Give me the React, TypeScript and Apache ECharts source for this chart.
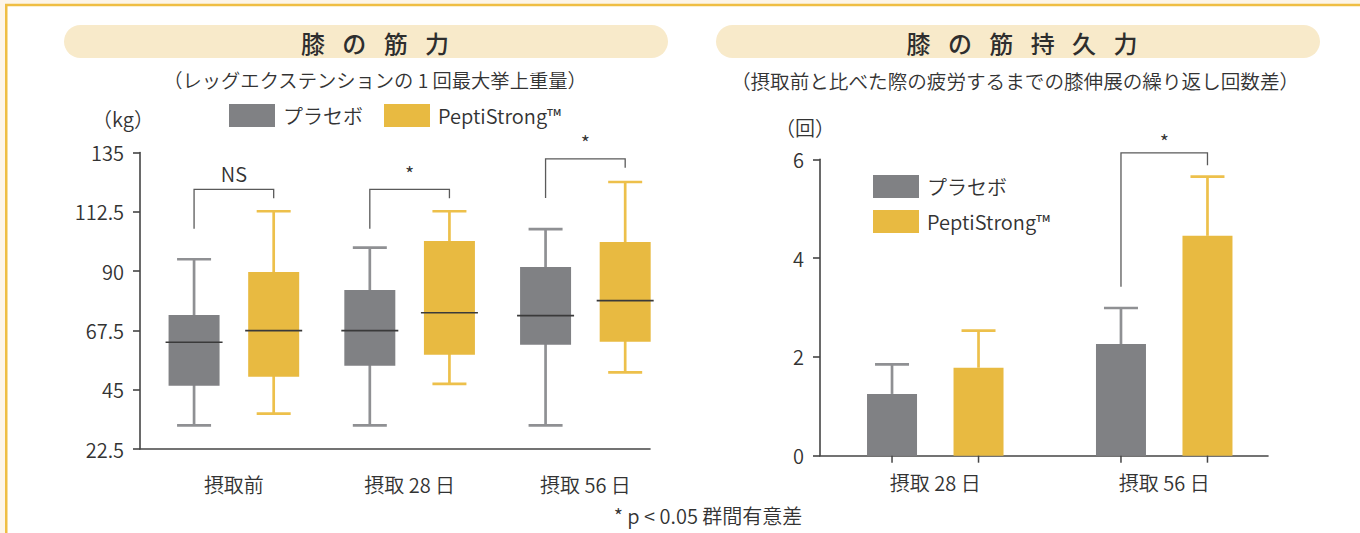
import React, { useEffect, useRef } from "react";
import * as echarts from "echarts";

// ---------- data ----------
const groupNames = ["プラセボ", "PeptiStrong™"];

// left chart: knee strength (kg), box plots [min, Q1, median, Q3, max]
const strengthCategories = ["摂取前", "摂取 28 日", "摂取 56 日"];
const strengthMin = 22.5;
const strengthMax = 135;
const strengthInterval = 22.5;
const placeboStrength = [
  [31.5, 46.5, 63.0, 73.3, 94.5],
  [31.5, 54.1, 67.4, 82.8, 98.9],
  [31.5, 62.1, 73.1, 91.6, 105.9],
];
const peptiStrength = [
  [35.9, 49.9, 67.4, 89.7, 112.7],
  [47.2, 58.3, 74.2, 101.4, 112.7],
  [51.6, 63.2, 78.8, 101.0, 123.8],
];
// significance brackets: [category, top, left end, right end]
const strengthSig = [
  [0, 121.0, 106.1, 117.6],
  [1, 121.0, 106.1, 117.6],
  [2, 132.6, 117.7, 129.2],
];
const strengthSigLabels = ["NS", "*", "*"];

// right chart: knee endurance (reps difference), mean and SD
const enduranceCategories = ["摂取 28 日", "摂取 56 日"];
const enduranceMin = 0;
const enduranceMax = 6;
const enduranceInterval = 2;
const placeboEndurance = [1.25, 2.26];
const placeboEnduranceSD = [0.6, 0.73];
const peptiEndurance = [1.78, 4.45];
const peptiEnduranceSD = [0.75, 1.2];
const enduranceSig = [[1, 6.13, 3.42, 5.88]];
const enduranceSigLabels = ["*"];

// ---------- styles ----------
const FONT = '"Noto Sans CJK JP", "Noto Sans", sans-serif';
const FW = 350;
const GRAY = "#808184";
const GRAY_W = "#8f9093";
const YELLOW = "#e8ba41";
const YELLOW_W = "#edc04b";
const INK = "#333333";
const AXIS = "#454545";
const MEDIAN = "#3a3a3a";
const BRACKET = "#5a5a5a";
const PILL = "#f8eaca";

const BOX_W = 51;
const CAP_W = 34;
const MED_W = 57;
const BOX_OFFSET_RATIO = 0.2265;
const BAR_W = 50;
const BAR_GAP_RATIO = 0.73;
const BAR_OFFSET = (BAR_W * (1 + BAR_GAP_RATIO)) / 2;

function boxRender(side: number, fill: string, whisker: string) {
  return (params: any, api: any) => {
    const idx = api.value(0);
    const band = api.size([1, 0])[0];
    const cx = api.coord([idx, api.value(3)])[0] + side * band * BOX_OFFSET_RATIO;
    const y = (k: number) => api.coord([idx, api.value(k)])[1];
    const yMin = y(1), yQ1 = y(2), yMed = y(3), yQ3 = y(4), yMax = y(5);
    const ws = { stroke: whisker, lineWidth: 2.7 };
    return {
      type: "group",
      children: [
        { type: "line", shape: { x1: cx, y1: yMin, x2: cx, y2: yMax }, style: ws },
        { type: "line", shape: { x1: cx - CAP_W / 2, y1: yMin, x2: cx + CAP_W / 2, y2: yMin }, style: ws },
        { type: "line", shape: { x1: cx - CAP_W / 2, y1: yMax, x2: cx + CAP_W / 2, y2: yMax }, style: ws },
        { type: "rect", shape: { x: cx - BOX_W / 2, y: yQ3, width: BOX_W, height: yQ1 - yQ3 }, style: { fill } },
        { type: "line", shape: { x1: cx - MED_W / 2, y1: yMed, x2: cx + MED_W / 2, y2: yMed }, style: { stroke: MEDIAN, lineWidth: 1.6 } },
      ],
    };
  };
}

function errRender(side: number, whisker: string) {
  return (params: any, api: any) => {
    const idx = api.value(0);
    const v = api.value(1);
    const sd = api.value(2);
    const top = api.coord([idx, v]);
    const cx = top[0] + side * BAR_OFFSET;
    const yErr = api.coord([idx, v + sd])[1];
    const y0 = api.coord([idx, 0])[1];
    const ws = { stroke: whisker, lineWidth: 2.7 };
    return {
      type: "group",
      children: [
        { type: "line", shape: { x1: cx, y1: top[1], x2: cx, y2: yErr }, style: ws },
        { type: "line", shape: { x1: cx - CAP_W / 2, y1: yErr, x2: cx + CAP_W / 2, y2: yErr }, style: ws },
        { type: "line", shape: { x1: cx, y1: y0, x2: cx, y2: y0 + 7 }, style: { stroke: AXIS, lineWidth: 1.5 } },
      ],
    };
  };
}

function bracketRender(offset: (band: number) => number, labels: string[], gap: number) {
  return (params: any, api: any) => {
    const idx = api.value(0);
    const band = api.size([1, 0])[0];
    const c = api.coord([idx, api.value(1)]);
    const off = offset(band);
    const xl = c[0] - off;
    const xr = c[0] + off;
    const yT = c[1];
    const yL = api.coord([idx, api.value(2)])[1];
    const yR = api.coord([idx, api.value(3)])[1];
    return {
      type: "group",
      children: [
        {
          type: "polyline",
          shape: { points: [[xl, yL], [xl, yT], [xr, yT], [xr, yR]] },
          style: { stroke: BRACKET, lineWidth: 1.3, fill: null },
        },
        {
          type: "text",
          x: c[0],
          y: yT - gap,
          style: {
            text: labels[params.dataIndex],
            fill: INK,
            fontSize: 20,
            fontWeight: FW,
            fontFamily: FONT,
            align: "center",
            verticalAlign: "middle",
          },
        },
      ],
    };
  };
}

function txt(x: number, y: number, text: string, size: number, extra: any = {}) {
  return {
    type: "text",
    x,
    y,
    z: 1,
    style: { text, fill: INK, fontSize: size, fontWeight: FW, fontFamily: FONT, align: "center", verticalAlign: "middle", ...extra },
  };
}

export default function App() {
  const ref = useRef<HTMLDivElement>(null);
  useEffect(() => {
    if (!ref.current) return;
    const chart = echarts.init(ref.current, undefined, { renderer: "svg" });

    const legendData = [
      { name: groupNames[0], itemStyle: { color: GRAY } },
      { name: groupNames[1], itemStyle: { color: YELLOW } },
    ];
    const legendCommon = {
      itemWidth: 46,
      itemHeight: 23,
      padding: 0,
      icon: "rect",
      selectedMode: false,
      textStyle: { fontSize: 20, fontWeight: FW, color: INK, fontFamily: FONT, padding: [0, 0, 0, 3] },
      data: legendData,
    };
    const axisLineStyle = { color: AXIS, width: 1.6 };
    const hiddenX = (gridIndex: number) => ({
      gridIndex,
      type: "value",
      min: 0,
      max: 1,
      axisLine: { show: true, onZero: false, lineStyle: axisLineStyle },
      axisTick: { show: false },
      axisLabel: { show: false },
      splitLine: { show: false },
    });
    const catX = (gridIndex: number, data: string[], margin: number) => ({
      gridIndex,
      type: "category",
      data,
      axisLine: { show: false },
      axisTick: { show: false },
      splitLine: { show: false },
      axisLabel: { interval: 0, margin, fontSize: 20, fontWeight: FW, color: INK, fontFamily: FONT },
    });
    const visY = (gridIndex: number, min: number, max: number, interval: number) => ({
      gridIndex,
      type: "value",
      min,
      max,
      interval,
      axisLine: { show: true, onZero: false, lineStyle: axisLineStyle },
      axisTick: { show: true, length: 7, lineStyle: axisLineStyle },
      axisLabel: { margin: 16, fontSize: 20, fontWeight: FW, color: INK, fontFamily: FONT },
      splitLine: { show: false },
    });
    const hidY = (gridIndex: number, min: number, max: number) => ({
      gridIndex,
      type: "value",
      min,
      max,
      show: false,
      splitLine: { show: false },
    });

    const option: any = {
      animation: false,
      backgroundColor: "#fdf5e8",
      textStyle: { fontFamily: FONT },
      grid: [
        { left: 140, top: 152.5, width: 510, height: 296.5, outerBoundsMode: "none" },
        { left: 146, top: 152.5, width: 527.25, height: 296.5, outerBoundsMode: "none" },
        { left: 820, top: 159.3, width: 448, height: 296.4, outerBoundsMode: "none" },
        { left: 820.8, top: 159.3, width: 457.9, height: 296.4, outerBoundsMode: "none" },
      ],
      xAxis: [
        hiddenX(0),
        catX(1, strengthCategories, 25),
        hiddenX(2),
        catX(3, enduranceCategories, 17),
      ],
      yAxis: [
        visY(0, strengthMin, strengthMax, strengthInterval),
        hidY(1, strengthMin, strengthMax),
        visY(2, enduranceMin, enduranceMax, enduranceInterval),
        hidY(3, enduranceMin, enduranceMax),
      ],
      legend: [
        { ...legendCommon, left: 229, top: 104, orient: "horizontal", itemGap: 21 },
        { ...legendCommon, left: 873, top: 175, orient: "vertical", itemGap: 12 },
      ],
      graphic: [
        {
          type: "rect",
          z: -5,
          shape: { x: 6.25, y: 5, width: 1400, height: 600 },
          style: { fill: "#ffffff", stroke: "#efbe43", lineWidth: 2.5 },
        },
        { type: "rect", z: -4, shape: { x: 64, y: 25, width: 604, height: 33, r: 16.5 }, style: { fill: PILL } },
        { type: "rect", z: -4, shape: { x: 716, y: 25, width: 604, height: 33, r: 16.5 }, style: { fill: PILL } },
        txt(375, 42, "膝\u2002 の\u2002 筋\u2002 力", 24, { fontWeight: 500, fill: "#2e2e2e" }),
        txt(1022, 42, "膝\u2002 の\u2002 筋\u2002 持\u2002 久\u2002 力", 24, { fontWeight: 500, fill: "#2e2e2e" }),
        txt(375, 80, "（レッグエクステンションの 1 回最大挙上重量）", 19.3),
        txt(1015, 80, "（摂取前と比べた際の疲労するまでの膝伸展の繰り返し回数差）", 19.6),
        txt(123, 118, "（kg）", 20),
        txt(805, 127, "（回）", 20),
        txt(708, 515, "* p < 0.05 群間有意差", 20),
      ],
      series: [
        {
          type: "custom",
          name: groupNames[0],
          xAxisIndex: 1,
          yAxisIndex: 1,
          itemStyle: { color: GRAY },
          dimensions: ["x", "min", "q1", "med", "q3", "max"],
          encode: { x: 0, y: [1, 2, 3, 4, 5] },
          data: placeboStrength.map((v, i) => [i, ...v]),
          renderItem: boxRender(-1, GRAY, GRAY_W),
        },
        {
          type: "custom",
          name: groupNames[1],
          xAxisIndex: 1,
          yAxisIndex: 1,
          itemStyle: { color: YELLOW },
          dimensions: ["x", "min", "q1", "med", "q3", "max"],
          encode: { x: 0, y: [1, 2, 3, 4, 5] },
          data: peptiStrength.map((v, i) => [i, ...v]),
          renderItem: boxRender(1, YELLOW, YELLOW_W),
        },
        {
          type: "custom",
          name: "sigL",
          xAxisIndex: 1,
          yAxisIndex: 1,
          encode: { x: 0, y: [1, 2, 3] },
          data: strengthSig,
          renderItem: bracketRender((band) => band * BOX_OFFSET_RATIO, strengthSigLabels, 16),
        },
        {
          type: "bar",
          name: groupNames[0],
          xAxisIndex: 3,
          yAxisIndex: 3,
          barWidth: BAR_W,
          barGap: `${BAR_GAP_RATIO * 100}%`,
          itemStyle: { color: GRAY },
          data: placeboEndurance,
        },
        {
          type: "bar",
          name: groupNames[1],
          xAxisIndex: 3,
          yAxisIndex: 3,
          barWidth: BAR_W,
          barGap: `${BAR_GAP_RATIO * 100}%`,
          itemStyle: { color: YELLOW },
          data: peptiEndurance,
        },
        {
          type: "custom",
          name: "errP",
          xAxisIndex: 3,
          yAxisIndex: 3,
          z: 3,
          encode: { x: 0, y: [1] },
          data: placeboEndurance.map((v, i) => [i, v, placeboEnduranceSD[i]]),
          renderItem: errRender(-1, GRAY_W),
        },
        {
          type: "custom",
          name: "errY",
          xAxisIndex: 3,
          yAxisIndex: 3,
          z: 3,
          encode: { x: 0, y: [1] },
          data: peptiEndurance.map((v, i) => [i, v, peptiEnduranceSD[i]]),
          renderItem: errRender(1, YELLOW_W),
        },
        {
          type: "custom",
          name: "sigR",
          xAxisIndex: 3,
          yAxisIndex: 3,
          encode: { x: 0, y: [1, 2, 3] },
          data: enduranceSig,
          renderItem: bracketRender(() => BAR_OFFSET, enduranceSigLabels, 11),
        },
      ],
    };
    chart.setOption(option);
    return () => chart.dispose();
  }, []);

  return (
    <div
      ref={ref}
      style={{ position: "fixed", left: 0, top: 0, width: 1360, height: 533 }}
    />
  );
}
